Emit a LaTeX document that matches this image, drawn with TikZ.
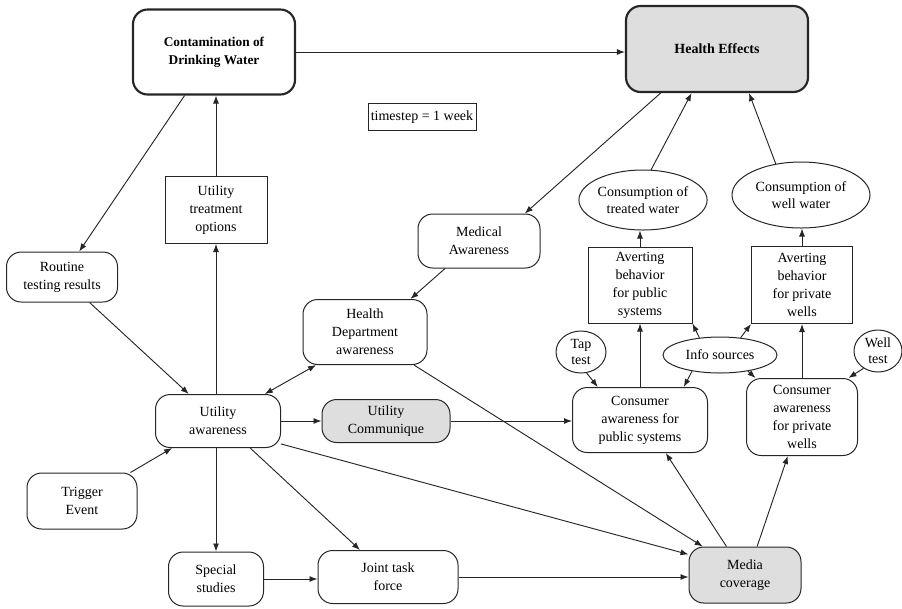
\documentclass[tikz,border=0pt]{standalone}
\usepackage{fontspec}
\setmainfont{Liberation Serif}
\usetikzlibrary{arrows.meta,shapes.geometric}
\newcommand\fsz{\fontsize{10.5}{13.5}\selectfont}
\begin{document}
\begin{tikzpicture}[x=0.75pt,y=-0.75pt,
  base/.style={draw=black!85, line width=0.75pt, align=center, font=\fsz, inner sep=1pt},
  rbox/.style={base, rectangle, rounded corners=11pt},
  sqbox/.style={base, rectangle},
  ebox/.style={base, ellipse, inner sep=0pt},
  shade/.style={fill=black!13},
  heavy/.style={line width=1.6pt},
  wh/.style 2 args={minimum width=#1*0.75pt, minimum height=#2*0.75pt},
  arr/.style={draw=black!85, line width=0.7pt, -{Latex[length=6pt,width=4.5pt]}},
  dbl/.style={draw=black!85, line width=0.7pt, {Latex[length=6pt,width=4.5pt]}-{Latex[length=6pt,width=4.5pt]}}
]
\useasboundingbox (0,0) rectangle (902,608);

% nodes
\node[rbox, heavy, wh={162}{85}, font=\fontsize{10}{13.5}\selectfont\bfseries] (contam) at (214,52) {Contamination of\\Drinking Water};
\node[rbox, heavy, shade, wh={182}{86}, font=\fsz\bfseries] (health) at (717,49) {Health Effects};
\node[sqbox, wh={108}{27}] (timestep) at (422,117) {timestep = 1 week};
\node[sqbox, wh={102}{67}] (treat) at (216,210) {Utility\\treatment\\options};
\node[rbox, wh={111}{50}] (routine) at (62,277) {Routine\\testing results};
\node[rbox, wh={122}{54}] (medical) at (479,241) {Medical\\Awareness};
\node[rbox, wh={124}{65}] (hdept) at (365,332) {Health\\Department\\awareness};
\node[rbox, wh={125}{53}] (util) at (218,421) {Utility\\awareness};
\node[rbox, shade, wh={128}{43}] (comm) at (386,421) {Utility\\Communique};
\node[rbox, wh={110}{56}] (trigger) at (82,501) {Trigger\\Event};
\node[rbox, wh={95}{54}] (special) at (216,579) {Special\\studies};
\node[rbox, wh={140}{53}] (joint) at (388,577) {Joint task\\force};
\node[rbox, shade, wh={112}{56}] (media) at (745,575) {Media\\coverage};
\node[rbox, wh={135}{65}] (conspub) at (640,420) {Consumer\\awareness for\\public systems};
\node[rbox, wh={111}{77}] (conspriv) at (802,417) {Consumer\\awareness\\for private\\wells};
\node[ebox, wh={114}{36}] (info) at (720,355) {Info sources};
\node[ebox, wh={50}{42}, font=\fontsize{10.5}{12}\selectfont] (tap) at (581,352) {Tap\\test};
\node[ebox, wh={48}{42}, font=\fontsize{10.5}{12}\selectfont] (well) at (878,351) {Well\\test};
\node[sqbox, wh={104}{76}] (avpub) at (640,285) {Averting\\behavior\\for public\\systems};
\node[sqbox, wh={101}{77}] (avpriv) at (802,285) {Averting\\behavior\\for private\\wells};
\node[ebox, wh={124}{60}, font=\fontsize{10.5}{12.5}\selectfont] (ctreat) at (643,200) {Consumption of\\treated water};
\node[ebox, wh={138}{66}, font=\fontsize{10.5}{12.5}\selectfont] (cwell) at (801,195) {Consumption of\\well water};

% connectors
\draw[arr] (contam.east) -- (contam.east -| health.west);
\draw[arr] (treat.north) -- (treat.north |- contam.south);
\draw[arr] (treat.south |- util.north) -- (treat.south);
\draw[arr] (contam) -- (routine);
\draw[arr] (routine) -- (util);
\draw[arr] (trigger) -- (util);
\draw[arr] (special.north |- util.south) -- (special.north);
\draw[arr] (special.east) -- (special.east -| joint.west);
\draw[arr] (joint.east) -- (joint.east -| media.west);
\draw[arr] (util.-20) -- (media.160);
\draw[arr] (util.-40) -- (joint.136);
\draw[arr] (hdept.-34.5) -- (media.146);
\draw[arr] (media.123) -- (conspub.-52);
\draw[arr] (media.67) -- (conspriv.-110);
\draw[dbl] (util.30) -- (hdept.-146);
\draw[arr] (medical.-141) -- (hdept.36);
\draw[arr] (health.-142) -- (medical.31.5);
\draw[arr] (ctreat.75) -- (health.-120);
\draw[arr] (cwell.129) -- (health.-54);
\draw[arr] (avpub.north) -- (avpub.north |- ctreat.south);
\draw[arr] (avpriv.north) -- (avpriv.north |- cwell.south);
\draw[arr] (conspub.north) -- (conspub.north |- avpub.south);
\draw[arr] (conspriv.north) -- (conspriv.north |- avpriv.south);
\draw[arr] (tap.-75) -- (conspub.142);
\draw[arr] (info.-150) -- (conspub.37);
\draw[arr] (info.-30) -- (conspriv.140);
\draw[arr] (info.140) -- (avpub.south east);
\draw[arr] (info.40) -- (avpriv.south west);
\draw[arr] (well.-130) -- (conspriv.40);
\draw[arr] (util.east) -- (comm.west);
\draw[arr] (comm.east) -- (comm.east -| conspub.west);
\end{tikzpicture}
\end{document}
